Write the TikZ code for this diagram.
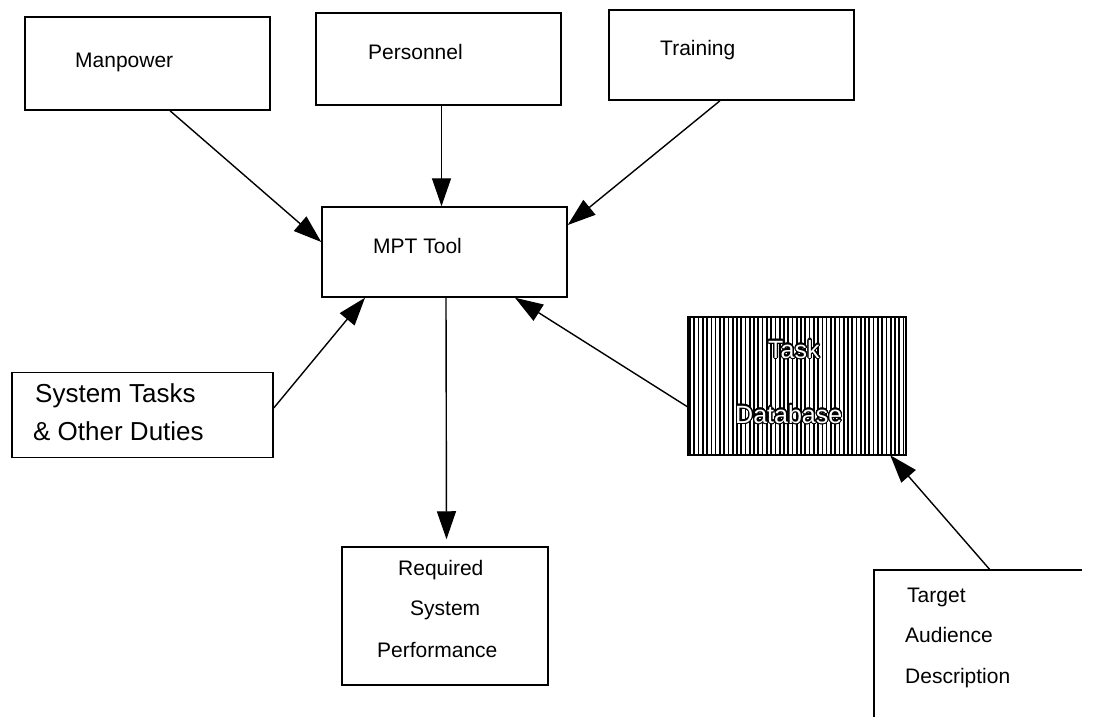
\documentclass[tikz,border=0pt]{standalone}
\usepackage{fontspec}
\setmainfont{Liberation Sans}
\usepackage{contour}
\usetikzlibrary{arrows.meta,calc}
\contourlength{1.1pt}
\contournumber{24}
\begin{document}
\begin{tikzpicture}[x=1pt,y=-1pt,
  box/.style={draw=black, line width=1.5pt, rectangle, inner sep=0pt},
  lbl/.style={anchor=base west, inner sep=0pt, font=\fontsize{21}{21}\selectfont},
  biglbl/.style={anchor=base west, inner sep=0pt, font=\fontsize{26}{26}\selectfont},
  hollow/.style={anchor=base west, inner sep=0pt, font=\fontsize{25}{25}\selectfont},
  flow/.style={line width=1.4pt, -{Triangle[length=28pt,width=19pt]}}]
\useasboundingbox (0,0) rectangle (1093,716);
\clip (0,0) rectangle (1093,716);

% boxes
\node[box, minimum width=245pt, minimum height=93pt] (man)   at (147.5,63.5) {};
\node[box, minimum width=245pt, minimum height=92pt] (pers)  at (438.5,59) {};
\node[box, minimum width=245pt, minimum height=90pt] (train) at (731.5,55) {};
\node[box, minimum width=245pt, minimum height=90pt] (mpt)   at (444.5,252) {};
\node[box, minimum width=261pt, minimum height=85pt] (sys)   at (142.5,415) {};
\node[box, minimum width=206pt, minimum height=138pt] (req)  at (445,616) {};
\node[rectangle, minimum width=218pt, minimum height=138pt, inner sep=0pt] (db) at (797,386) {};
\node[rectangle, minimum width=208pt, minimum height=170pt, inner sep=0pt] (tgt) at (978,655) {};

% hatched task database
\foreach \i in {0,...,50} {
  \draw[line width=1.7pt] ($(db.north west)+(2.2+4.27*\i,0)$) -- ($(db.south west)+(2.2+4.27*\i,0)$);
}
\draw[line width=1.5pt] (db.north west) rectangle (db.south east);

% target audience box, running off the sheet
\draw[line width=1.5pt] (tgt.south west) -- (tgt.north west) -- (tgt.north east);

% labels
\node[lbl] (tman)   at (75,67)  {Manpower};
\node[lbl] (tpers)  at (368,59) {Personnel};
\node[lbl] (ttrain) at (660,55) {Training};
\node[lbl] (tmpt)   at (373,253) {MPT Tool};
\node[biglbl] (tsys1) at (35,402) {System Tasks};
\node[biglbl] (tsys2) at (33,440) {\& Other Duties};
\node[lbl] (treq1)  at (398,575) {Required};
\node[lbl] (treq2)  at (410,615) {System};
\node[lbl] (treq3)  at (377,657) {Performance};
\node[lbl] (ttg1)   at (907,602) {Target};
\node[lbl] (ttg2)   at (905,642) {Audience};
\node[lbl] (ttg3)   at (905,683) {Description};
% outlined lettering on the hatched box
\node[hollow] (tdb1) at (768,358) {\textcolor{white}{\contour{black}{Task}}};
\node[hollow] (tdb2) at (735,423) {\textcolor{white}{\contour{black}{Database}}};

% connectors
\draw[flow] ([xshift=22.5pt]man.south) -- ([yshift=10pt]mpt.west);
\draw[flow] ([xshift=3pt]pers.south) -- ([xshift=3pt]pers.south |- mpt.north);
\draw[flow] ([xshift=-11.5pt]train.south) -- ([yshift=27pt]mpt.east);
\draw[flow] ([yshift=7pt]sys.east) -- ([xshift=-79.5pt]mpt.south);
\draw[flow] ([yshift=-21pt]db.west) -- ([xshift=70.5pt]mpt.south);
\draw[flow] ([xshift=1.5pt]mpt.south) -- ([xshift=1.5pt,yshift=7pt]req.north);
\draw[flow] ([xshift=12pt]tgt.north) -- ([xshift=-16pt]db.south east);
\end{tikzpicture}
\end{document}
